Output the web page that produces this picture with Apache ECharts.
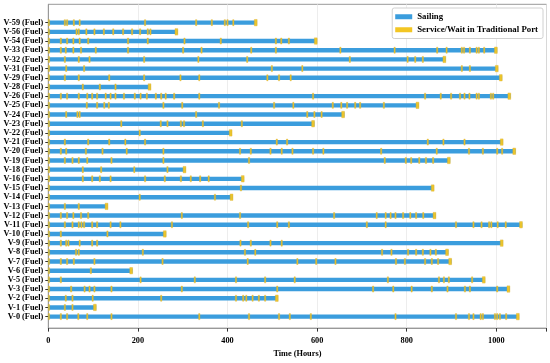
<!DOCTYPE html>
<html><head><meta charset="utf-8">
<script src="https://cdn.jsdelivr.net/npm/echarts@6/dist/echarts.min.js"></script>
<style>html,body{margin:0;padding:0;background:#fff}#c{width:550px;height:363px}</style>
</head><body><div id="c"></div>
<script>
// vessels listed bottom to top
const vessels = ['V-0','V-1','V-2','V-3','V-5','V-6','V-7','V-8','V-9','V-10','V-11','V-12','V-13','V-14','V-15','V-16','V-18','V-19','V-20','V-21','V-22','V-23','V-24','V-25','V-26','V-28','V-29','V-31','V-32','V-33','V-54','V-56','V-59'];
// time (hours) at which the vessel is back in its home port
const endTimes = [1048,104,510,1027,972,185,897,890,1012,260,1055,862,130,409,858,434,304,894,1040,1012,407,591,658,824,1029,226,1010,1001,884,999,597,286,463];
// times (hours) of service/wait in traditional ports
const serviceTimes = [
  [0,28,42,67,87,141,337,448,515,539,586,775,910,939,949,965,970,997,1002,1008,1022],
  [0,37,54],
  [0,39,54,99,252,419,435,442,456,470,484],
  [0,51,81,92,103,141,298,511,725,770,811,856,891,930,941,1002],
  [0,28,206,327,419,484,550,758,872,883,894,946],
  [0,95],
  [0,28,42,57,103,255,445,556,598,641,776,796,841,856,870],
  [0,62,68,211,439,462,745,766,803,821,836,853,865],
  [0,28,40,45,70,98,109,429,452,496,521],
  [0,28,132],
  [0,37,54,68,74,80,98,109,139,161,276,446,511,537,711,753,910,949,967,984,989,1003,1021],
  [0,28,42,56,73,89,298,428,638,733,753,764,775,792,808,821,837],
  [0,37,68],
  [0,204,372],
  [0,430],
  [0,77,98,115,139,216,260,296,318,339,358],
  [0,77,118,192,266],
  [0,37,54,68,87,141,257,448,751,798,810,828,843,859],
  [0,28,40,84,121,175,257,428,452,496,521,545,591,614,743,867,939,970,1002,1013],
  [0,37,89,136,172,216,510,533,847,882,929],
  [0,204],
  [0,163,251,266,296,303,345,432],
  [0,40,65,70,330,578,594,610],
  [0,86,109,125,135,257,299,381,504,547,635,654,667,685,696,749],
  [0,28,42,68,87,98,109,128,139,150,169,193,206,220,240,252,262,281,337,591,841,876,899,919,929,940,956,961,988,993],
  [0,77,115,150],
  [0,37,68,136,214,295,337,489,515,541],
  [0,40,80,499,567,923,941],
  [0,37,68,92,214,335,444,673,802,819,836],
  [0,28,39,56,73,106,178,301,342,453,508,652,773,868,889,923,928,941,956,961,973],
  [0,28,42,56,70,89,178,222,304,385,508,520,537],
  [0,63,68,85,103,124,145,167,187,205,222,228],
  [0,37,42,57,70,216,330,365,394,400,413]
];
const xTicks = [0,200,400,600,800,1000];
const seriesNames = ['Sailing','Service/Wait in Traditional Port'];

// y category axis on a quarter-row grid: row r sits at index 4r+5
const ROW_STEP = 4, ROW_OFF = 5, N_CAT = 142;
const yCats = new Array(N_CAT).fill('');
vessels.forEach((v, r) => { yCats[ROW_STEP * r + ROW_OFF] = v + ' (Fuel)'; });

const sailData = vessels.map((v, r) => [0, endTimes[r] + 3, ROW_STEP * r + ROW_OFF]);
const portData = [];
vessels.forEach((v, r) => {
  serviceTimes[r].forEach(t => portData.push([t, ROW_STEP * r + ROW_OFF, 0]));
  portData.push([endTimes[r], ROW_STEP * r + ROW_OFF, 1]);
});

const BLUE = '#3b9ddd', YELLOW = '#f3c623';
const font = { fontFamily: 'Liberation Serif', fontWeight: 'bold', color: '#000' };

const chart = echarts.init(document.getElementById('c'), null, { renderer: 'canvas' });
chart.setOption({
  animation: false,
  grid: { left: 48.3, right: 3.5, top: 4.3, bottom: 30.2, show: true, borderColor: '#999', borderWidth: 1, backgroundColor: 'transparent' },
  legend: {
    data: seriesNames, orient: 'vertical', right: 7, top: 8,
    icon: 'rect', itemWidth: 17, itemHeight: 5, itemGap: 1.5,
    padding: [3, 5, 3, 3], borderColor: '#d0d0d0', borderWidth: 1, borderRadius: 2, backgroundColor: '#fff',
    textStyle: Object.assign({ fontSize: 8.8, lineHeight: 11.5 }, font)
  },
  xAxis: {
    type: 'value', min: 0, max: 1112, interval: 200,
    name: 'Time (Hours)', nameLocation: 'middle', nameGap: 19,
    nameTextStyle: Object.assign({ fontSize: 8.3 }, font),
    axisLine: { show: true, lineStyle: { color: '#999', width: 1 } },
    axisTick: { show: true, length: 3.5, lineStyle: { color: '#333' } },
    axisLabel: Object.assign({ fontSize: 8.3, margin: 9, formatter: v => (xTicks.indexOf(v) >= 0 ? String(v) : '') }, font),
    splitLine: { show: true, lineStyle: { color: '#e8e8e8', width: 0.8 } }
  },
  yAxis: {
    type: 'category', data: yCats, boundaryGap: false,
    axisLine: { show: true, lineStyle: { color: '#999', width: 1 } },
    axisTick: { show: true, length: 3, interval: (i, v) => v !== '', lineStyle: { color: '#333' } },
    axisLabel: Object.assign({ fontSize: 8.3, margin: 5, interval: 0 }, font),
    splitLine: { show: false }
  },
  series: [
    {
      name: seriesNames[0], type: 'custom', itemStyle: { color: BLUE },
      encode: { x: [0, 1], y: 2 }, data: sailData, z: 2,
      renderItem: (p, api) => {
        const s = api.coord([api.value(0), api.value(2)]);
        const e = api.coord([api.value(1), api.value(2)]);
        const h = 4.4;
        return { type: 'rect', shape: { x: s[0], y: s[1] - h / 2, width: e[0] - s[0], height: h }, style: { fill: BLUE } };
      }
    },
    {
      name: seriesNames[1], type: 'custom', itemStyle: { color: YELLOW },
      encode: { x: 0, y: 1 }, data: portData, z: 3,
      renderItem: (p, api) => {
        const c = api.coord([api.value(0), api.value(1)]);
        const fin = api.value(2) === 1;
        const w = fin ? 2.8 : 1.3, h = fin ? 6.4 : 6.0;
        let x = c[0] - w / 2;
        if (api.value(0) === 0) x = c[0];
        return { type: 'rect', shape: { x: x, y: c[1] - h / 2, width: w, height: h },
          style: { fill: YELLOW, stroke: '#d6ad2a', lineWidth: 0.4, opacity: 0.95 } };
      }
    }
  ]
});
</script>
</body></html>
